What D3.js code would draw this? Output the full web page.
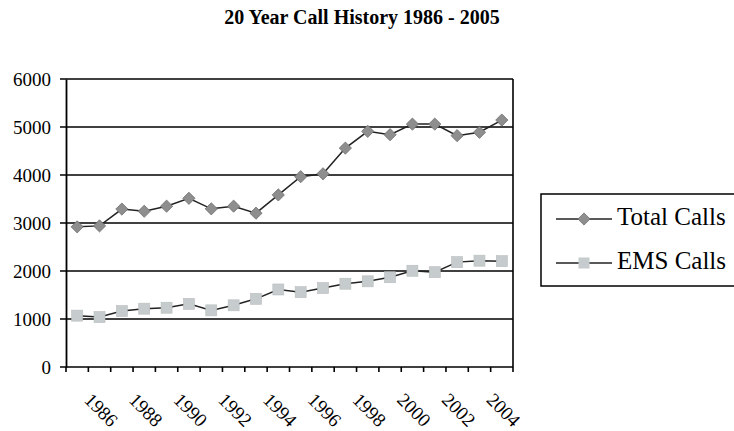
<!DOCTYPE html>
<html>
<head>
<meta charset="utf-8">
<script src="https://cdn.jsdelivr.net/npm/d3@7"></script>
<style>
  body { margin: 0; background: #fff; }
  svg text { font-family: "Liberation Serif", "Times New Roman", serif; fill: #000; }
</style>
</head>
<body>
<svg id="chart" width="734" height="431"></svg>
<script>
// data
const years = d3.range(1986, 2006).map(String);
const totalCalls = [2920, 2940, 3290, 3245, 3350, 3515, 3295, 3350, 3205, 3585,
                    3965, 4025, 4560, 4910, 4840, 5060, 5060, 4820, 4890, 5145];
const emsCalls = [1070, 1040, 1165, 1215, 1235, 1315, 1180, 1285, 1420, 1615,
                  1560, 1645, 1735, 1785, 1870, 2005, 1975, 2185, 2215, 2205];
const yTicks = [0, 1000, 2000, 3000, 4000, 5000, 6000];
const xLabels = years.filter((d, i) => i % 2 == 0);

const svg = d3.select("#chart");
const plot = {x: 66, y: 79, w: 447, h: 288};
const serif = '"Liberation Serif", "Times New Roman", serif';

const x = d3.scaleBand().domain(years).range([plot.x, plot.x + plot.w]);
const y = d3.scaleLinear().domain([0, 6000]).range([plot.y + plot.h, plot.y]);
const cx = (i) => x(years[i]) + x.bandwidth() / 2;

svg.append("text").attr("x", 362).attr("y", 24)
  .attr("text-anchor", "middle").style("font-family", serif)
  .attr("font-size", "20px").attr("font-weight", "bold")
  .text("20 Year Call History 1986 - 2005");

// gridlines (stick out left of the axis like ticks)
svg.append("g").selectAll("line").data(yTicks).join("line")
  .attr("x1", plot.x - 6).attr("x2", plot.x + plot.w)
  .attr("y1", d => y(d)).attr("y2", d => y(d))
  .attr("stroke", "#000").attr("stroke-width", 1.6);

// right border of the plot
svg.append("line").attr("x1", plot.x + plot.w).attr("x2", plot.x + plot.w)
  .attr("y1", plot.y).attr("y2", plot.y + plot.h).attr("stroke", "#000").attr("stroke-width", 1.6);

// y axis
const yAxis = svg.append("g").attr("transform", `translate(${plot.x},0)`)
  .call(d3.axisLeft(y).tickValues(yTicks).tickSize(0).tickPadding(15).tickFormat(d3.format("d")));
yAxis.select(".domain").attr("stroke-width", 1.8);
yAxis.selectAll("text").style("font-family", serif).attr("font-size", "19px");

// x axis, ticks at the category edges
const xAxis = svg.append("g").attr("transform", `translate(0,${plot.y + plot.h})`);
xAxis.selectAll(".tk").data(years.concat(["end"])).join("line").attr("class", "tk")
  .attr("x1", (d, i) => plot.x + i * x.bandwidth()).attr("x2", (d, i) => plot.x + i * x.bandwidth())
  .attr("y1", 0).attr("y2", 5).attr("stroke", "#000").attr("stroke-width", 1.6);
xAxis.selectAll("text").data(xLabels).join("text")
  .attr("transform", d => `translate(${x(d) + x.bandwidth() / 2 + 6},${34}) rotate(45)`)
  .style("font-family", serif).attr("font-size", "19px")
  .text(d => d);

const line = d3.line().x((d, i) => cx(i)).y(d => y(d));

svg.append("path").datum(totalCalls).attr("d", line)
  .attr("fill", "none").attr("stroke", "#222").attr("stroke-width", 1.5);
svg.append("path").datum(emsCalls).attr("d", line)
  .attr("fill", "none").attr("stroke", "#222").attr("stroke-width", 1.5);

const diamond = d3.symbol().type(d3.symbolDiamond2).size(95);
svg.append("g").selectAll("path").data(totalCalls).join("path")
  .attr("d", diamond)
  .attr("transform", (d, i) => `translate(${cx(i)},${y(d)})`)
  .attr("fill", "#8e8e8e").attr("stroke", "#6f6f6f").attr("stroke-width", 0.8);

svg.append("g").selectAll("rect").data(emsCalls).join("rect")
  .attr("x", (d, i) => cx(i) - 5.5)
  .attr("y", d => y(d) - 5.5).attr("width", 11).attr("height", 11)
  .attr("fill", "#c6cccd").attr("stroke", "#b8bcbd").attr("stroke-width", 0.6);

// legend
const legend = svg.append("g");
legend.append("rect").attr("x", 541).attr("y", 194).attr("width", 210).attr("height", 92)
  .attr("fill", "none").attr("stroke", "#000").attr("stroke-width", 1.5);
const items = [{name: "Total Calls", cy: 219}, {name: "EMS Calls", cy: 263}];
items.forEach((it, i) => {
  legend.append("line").attr("x1", 556).attr("x2", 612).attr("y1", it.cy).attr("y2", it.cy)
    .attr("stroke", "#222").attr("stroke-width", 1.5);
  if (i == 0) {
    legend.append("path").attr("d", diamond).attr("transform", `translate(584,${it.cy})`)
      .attr("fill", "#8e8e8e").attr("stroke", "#6f6f6f").attr("stroke-width", 0.8);
  } else {
    legend.append("rect").attr("x", 578.5).attr("y", it.cy - 5.5).attr("width", 11).attr("height", 11)
      .attr("fill", "#c6cccd");
  }
  legend.append("text").attr("x", 617).attr("y", it.cy + 6)
    .style("font-family", serif).attr("font-size", "25px").text(it.name);
});
</script>
</body>
</html>
